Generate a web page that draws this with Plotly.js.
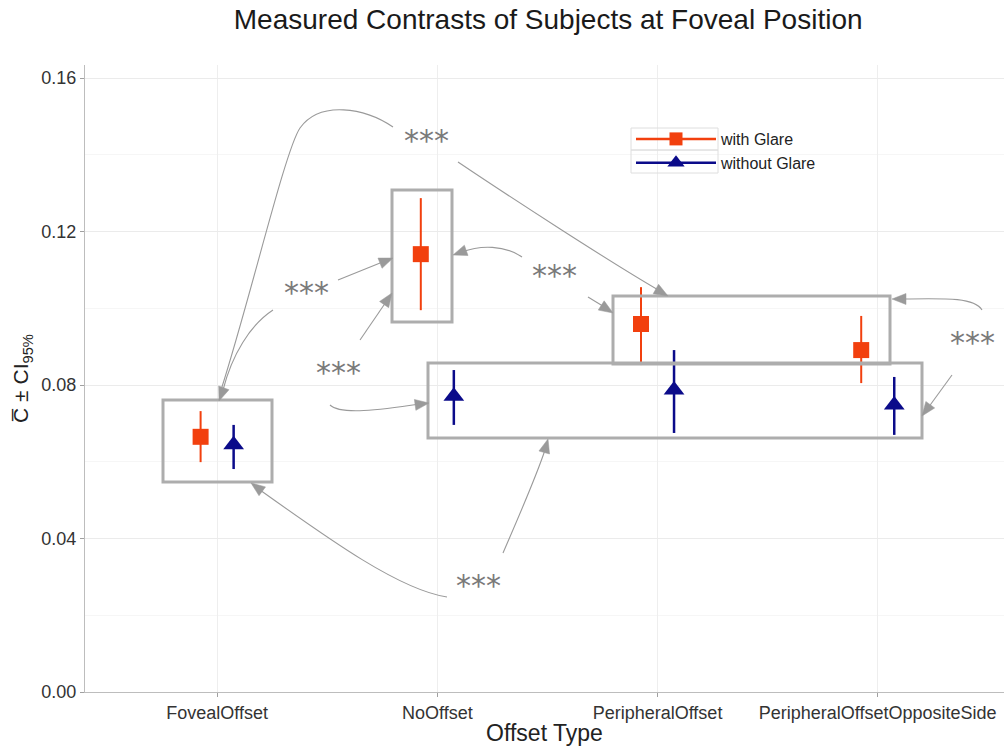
<!DOCTYPE html>
<html>
<head>
<meta charset="utf-8">
<script src="https://cdn.plot.ly/plotly-3.0.1.min.js"></script>
<style>html,body{margin:0;padding:0;background:#fff;}#chart{width:1004px;height:746px;}</style>
</head>
<body>
<div id="chart"></div>
<script>
// ---- data ----
const categories = ["FovealOffset", "NoOffset", "PeripheralOffset", "PeripheralOffsetOppositeSide"];
const glareMean = [0.0665, 0.1141, 0.0959, 0.0891];
const glareLow  = [0.0599, 0.0995, 0.0852, 0.0805];
const glareHigh = [0.0732, 0.1287, 0.1055, 0.0980];
const noGlareMean = [0.0644, 0.0771, 0.0787, 0.0748];
const noGlareLow  = [0.0581, 0.0696, 0.0675, 0.0670];
const noGlareHigh = [0.0696, 0.0839, 0.0891, 0.0821];
const seriesNames = ["with Glare", "without Glare"];
const yTicks = [0, 0.04, 0.08, 0.12, 0.16];
const yTickText = ["0.00", "0.04", "0.08", "0.12", "0.16"];
const sigLabel = "***";

// ---- layout geometry ----
const W = 1004, H = 746;
const M = {l: 85, r: 0, t: 65, b: 54};
const pxPerUnit = 220.2;
const xRange = [-0.6, -0.6 + (W - M.l - M.r) / pxPerUnit];
const yRange = [0, 0.16339];
const plotH = H - M.t - M.b;
const dodge = 0.075;

// pixel -> data helpers for decorations
const X = p => xRange[0] + (p - M.l) / pxPerUnit;
const Y = p => yRange[0] + (H - M.b - p) / plotH * (yRange[1] - yRange[0]);

const red = "#F2400E", blue = "#0B0B8A", grey = "#9a9a9a";
const FONT = "Liberation Sans, Arial, Helvetica, sans-serif";

const idx = categories.map((c, i) => i);
const traces = [
  {
    x: idx.map(i => i - dodge), y: glareMean, type: "scatter", mode: "markers",
    name: seriesNames[0], showlegend: false,
    marker: {symbol: "square", size: 16, color: red},
    error_y: {type: "data", symmetric: false,
      array: glareHigh.map((h, i) => h - glareMean[i]),
      arrayminus: glareMean.map((m, i) => m - glareLow[i]),
      color: red, thickness: 2, width: 0}
  },
  {
    x: idx.map(i => i + dodge), y: noGlareMean, type: "scatter", mode: "markers",
    name: seriesNames[1], showlegend: false,
    marker: {symbol: "triangle-up", size: 18, color: blue},
    error_y: {type: "data", symmetric: false,
      array: noGlareHigh.map((h, i) => h - noGlareMean[i]),
      arrayminus: noGlareMean.map((m, i) => m - noGlareLow[i]),
      color: blue, thickness: 2.5, width: 0}
  },
  {x: [null], y: [null], type: "scatter", mode: "lines+markers", name: seriesNames[0],
   line: {color: red, width: 2.5}, marker: {symbol: "square", size: 13, color: red}},
  {x: [null], y: [null], type: "scatter", mode: "lines+markers", name: seriesNames[1],
   line: {color: blue, width: 2.5}, marker: {symbol: "triangle-up", size: 15, color: blue}}
];

// ---- decorations: boxes around groups ----
const shapes = [];
function box(x0, y0, x1, y1) {
  shapes.push({type: "rect", xref: "x", yref: "y", x0: X(x0), x1: X(x1), y0: Y(y0), y1: Y(y1),
    line: {color: "#adadad", width: 3}, fillcolor: "rgba(0,0,0,0)", layer: "above"});
}
box(163, 400, 272, 482);
box(392, 190, 452, 322);
box(613, 296, 890, 364);
box(428, 363, 922, 438);

// ---- curved arrows (pixel path, converted to data coords) ----
function curve(segs) {
  let d = "";
  segs.forEach(s => {
    d += s[0];
    for (let k = 1; k < s.length; k += 2) d += X(s[k]) + "," + Y(s[k + 1]) + " ";
  });
  shapes.push({type: "path", xref: "x", yref: "y", path: d.trim(),
    line: {color: grey, width: 1.1}, layer: "above"});
}
function head(tx, ty, fx, fy, len = 14, hw = 5.5) {
  const dx = tx - fx, dy = ty - fy, n = Math.hypot(dx, dy), ux = dx / n, uy = dy / n;
  const bx = tx - ux * len, by = ty - uy * len;
  const p1 = [bx - uy * hw, by + ux * hw], p2 = [bx + uy * hw, by - ux * hw];
  shapes.push({type: "path", xref: "x", yref: "y",
    path: "M" + X(tx) + "," + Y(ty) + " L" + X(p1[0]) + "," + Y(p1[1]) + " L" + X(p2[0]) + "," + Y(p2[1]) + " Z",
    fillcolor: grey, line: {color: grey, width: 0.5}, layer: "above"});
}
// top *** -> FovealOffset box
curve([["M", 393, 127], ["C", 365, 108, 320, 100, 300, 128], ["C", 285, 150, 250, 300, 221, 390]]);
curve([["M", 273, 310], ["C", 250, 325, 232, 355, 223, 390]]);
head(219, 401, 226, 382);
// left *** -> NoOffset box
curve([["M", 338, 280], ["L", 385, 261]]);
head(393, 258, 338, 280);
curve([["M", 360, 340], ["L", 386, 302]]);
head(392, 293, 360, 340);
// lower-left *** -> bottom long box
curve([["M", 330, 405], ["C", 340, 415, 380, 410, 420, 404]]);
head(429, 403, 400, 407);
// top *** -> peripheral box top
curve([["M", 458, 162], ["C", 510, 197, 610, 262, 660, 291]]);
head(668, 296, 640, 280);
// middle *** -> NoOffset box right
curve([["M", 522, 257], ["C", 505, 245, 480, 245, 462, 252]]);
head(453, 255, 470, 249);
curve([["M", 588, 297], ["L", 606, 308]]);
head(613, 313, 588, 297);
// right *** -> peripheral boxes
curve([["M", 982, 310], ["C", 975, 298, 950, 298, 902, 299]]);
head(892, 299, 920, 299);
curve([["M", 952, 375], ["L", 928, 408]]);
head(922, 416, 952, 375);
// bottom *** -> Foveal box & long box
curve([["M", 447, 597], ["C", 400, 590, 330, 540, 260, 490]]);
head(251, 483, 270, 497);
curve([["M", 503, 553], ["C", 515, 525, 535, 480, 545, 450]]);
head(548, 439, 543, 457);

// legend key backgrounds (ggplot-style key boxes)
const KX = p => (p - M.l) / (W - M.l - M.r);
const KY = p => (H - M.b - p) / plotH;
shapes.push({type: "rect", xref: "paper", yref: "paper", x0: KX(631), x1: KX(718), y0: KY(150), y1: KY(128),
  line: {color: "#dedede", width: 1}, fillcolor: "rgba(0,0,0,0)"});
shapes.push({type: "rect", xref: "paper", yref: "paper", x0: KX(631), x1: KX(718), y0: KY(173), y1: KY(150),
  line: {color: "#dedede", width: 1}, fillcolor: "rgba(0,0,0,0)"});

// ---- significance labels ----
const sigPos = [[426, 133], [306, 285], [338, 365], [554, 268], [972, 335], [478, 578]];
const annotations = sigPos.map(p => ({
  x: X(p[0]), y: Y(p[1] + 7), xref: "x", yref: "y", text: sigLabel, showarrow: false,
  font: {family: "DejaVu Sans, sans-serif", size: 30, color: "#7a7a7a"},
  xanchor: "center", yanchor: "middle"
}));

const layout = {
  width: W, height: H,
  margin: M,
  paper_bgcolor: "#ffffff", plot_bgcolor: "#ffffff",
  font: {family: FONT, color: "#333"},
  title: {text: "Measured Contrasts of Subjects at Foveal Position",
    font: {family: FONT, size: 28, color: "#1a1a1a"},
    xref: "container", x: 0.546, xanchor: "center", yref: "container", y: 1 - 19 / H, yanchor: "middle"},
  xaxis: {
    range: xRange, tickvals: idx, ticktext: categories, zeroline: false,
    showgrid: true, gridcolor: "#eeeeee", gridwidth: 1,
    showline: true, linecolor: "#bdbdbd", linewidth: 1.2,
    ticks: "outside", ticklen: 4, tickcolor: "#a0a0a0",
    tickfont: {family: FONT, size: 18, color: "#333"},
    title: {text: "Offset Type", font: {family: FONT, size: 23, color: "#222"}, standoff: 2},
    fixedrange: true
  },
  yaxis: {
    range: yRange, tickvals: yTicks, ticktext: yTickText, zeroline: false,
    showgrid: true, gridcolor: "#ebebeb", gridwidth: 1,
    minor: {dtick: 0.02, showgrid: true, gridcolor: "#f6f6f6", ticks: ""},
    showline: true, linecolor: "#bdbdbd", linewidth: 1.2,
    ticks: "outside", ticklen: 4, tickcolor: "#a0a0a0",
    tickfont: {family: FONT, size: 18, color: "#333"},
    title: {text: "C\u0305 ± CI<sub>95%</sub>", font: {family: FONT, size: 21, color: "#222"}, standoff: 6},
    fixedrange: true
  },
  showlegend: true,
  legend: {x: KX(631), y: KY(122), xanchor: "left", yanchor: "top",
    bgcolor: "rgba(0,0,0,0)", borderwidth: 0, itemwidth: 80,
    font: {family: FONT, size: 16, color: "#222"}, tracegroupgap: 0},
  shapes: shapes,
  annotations: annotations
};

Plotly.newPlot("chart", traces, layout, {displayModeBar: false, staticPlot: true});
</script>
</body>
</html>
